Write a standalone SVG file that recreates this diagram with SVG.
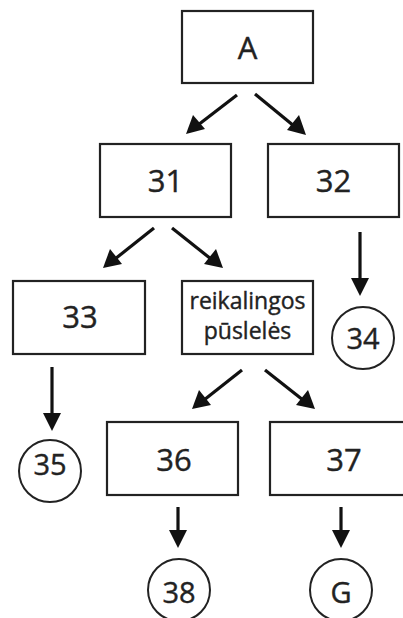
<svg xmlns="http://www.w3.org/2000/svg" width="403" height="618" viewBox="0 0 403 618">
<defs>
<style>
.box{fill:#fff;stroke:#222;stroke-width:2.2}
.circ{fill:#fff;stroke:#222;stroke-width:2}
.t{font-family:"Open Sans","Liberation Sans",sans-serif;fill:#222;stroke:#222;stroke-width:0.4;text-anchor:middle}
.big{font-size:31px}
.mid{font-size:29px}
.sm{font-size:23px}
.c{stroke:#111;stroke-width:3.2;fill:none}
.h{fill:#111}
</style>
</defs>
<rect width="403" height="618" fill="#fff"/>
<g id="connectors">
<line class="c" x1="237" y1="95" x2="198" y2="125"/>
<polygon class="h" points="186,134 193,115 205,129"/>
<line class="c" x1="255" y1="94" x2="294" y2="126"/>
<polygon class="h" points="306,135 287,130 299,115"/>
<line class="c" x1="154" y1="228" x2="115" y2="259"/>
<polygon class="h" points="103,268 110,249 122,264"/>
<line class="c" x1="172" y1="228" x2="211" y2="259"/>
<polygon class="h" points="223,268 204,264 216,249"/>
<line class="c" x1="360" y1="232" x2="360" y2="282"/>
<polygon class="h" points="351,278 369,278 360,296"/>
<line class="c" x1="52" y1="367" x2="52" y2="417"/>
<polygon class="h" points="43,413 61,413 52,431"/>
<line class="c" x1="242" y1="370" x2="204" y2="400"/>
<polygon class="h" points="192,409 199,390 211,405"/>
<line class="c" x1="265" y1="370" x2="303" y2="400"/>
<polygon class="h" points="315,409 296,405 308,390"/>
<line class="c" x1="178" y1="507" x2="178" y2="534"/>
<polygon class="h" points="169,530 187,530 178,548"/>
<line class="c" x1="341" y1="507" x2="341" y2="534"/>
<polygon class="h" points="332,530 350,530 341,548"/>
</g>
<g id="nA"><rect class="box" x="182" y="11" width="131" height="72"/><text class="t big" x="247.5" y="59">A</text></g>
<g id="n31"><rect class="box" x="100" y="144" width="131" height="73"/><text class="t big" x="165.5" y="192">31</text></g>
<g id="n32"><rect class="box" x="268" y="144" width="131" height="73"/><text class="t big" x="333.5" y="192">32</text></g>
<g id="n33"><rect class="box" x="13" y="281" width="132" height="73"/><text class="t big" x="80" y="328">33</text></g>
<g id="nR"><rect class="box" x="182" y="281" width="131" height="73"/><text class="t sm" x="247.5" y="309">reikalingos</text><text class="t sm" x="247.5" y="339">pūslelės</text></g>
<g id="n34"><circle class="circ" cx="363" cy="338" r="31"/><text class="t mid" x="363" y="349">34</text></g>
<g id="n35"><circle class="circ" cx="50" cy="471" r="31"/><text class="t mid" x="50" y="475">35</text></g>
<g id="n36"><rect class="box" x="107" y="422" width="131" height="73"/><text class="t big" x="174" y="471">36</text></g>
<g id="n37"><rect class="box" x="270" y="422" width="140" height="73"/><text class="t big" x="344" y="471">37</text></g>
<g id="n38"><circle class="circ" cx="179" cy="590" r="31"/><text class="t mid" x="179" y="603">38</text></g>
<g id="nG"><circle class="circ" cx="341" cy="590" r="31"/><text class="t mid" x="341" y="603">G</text></g>
</svg>
